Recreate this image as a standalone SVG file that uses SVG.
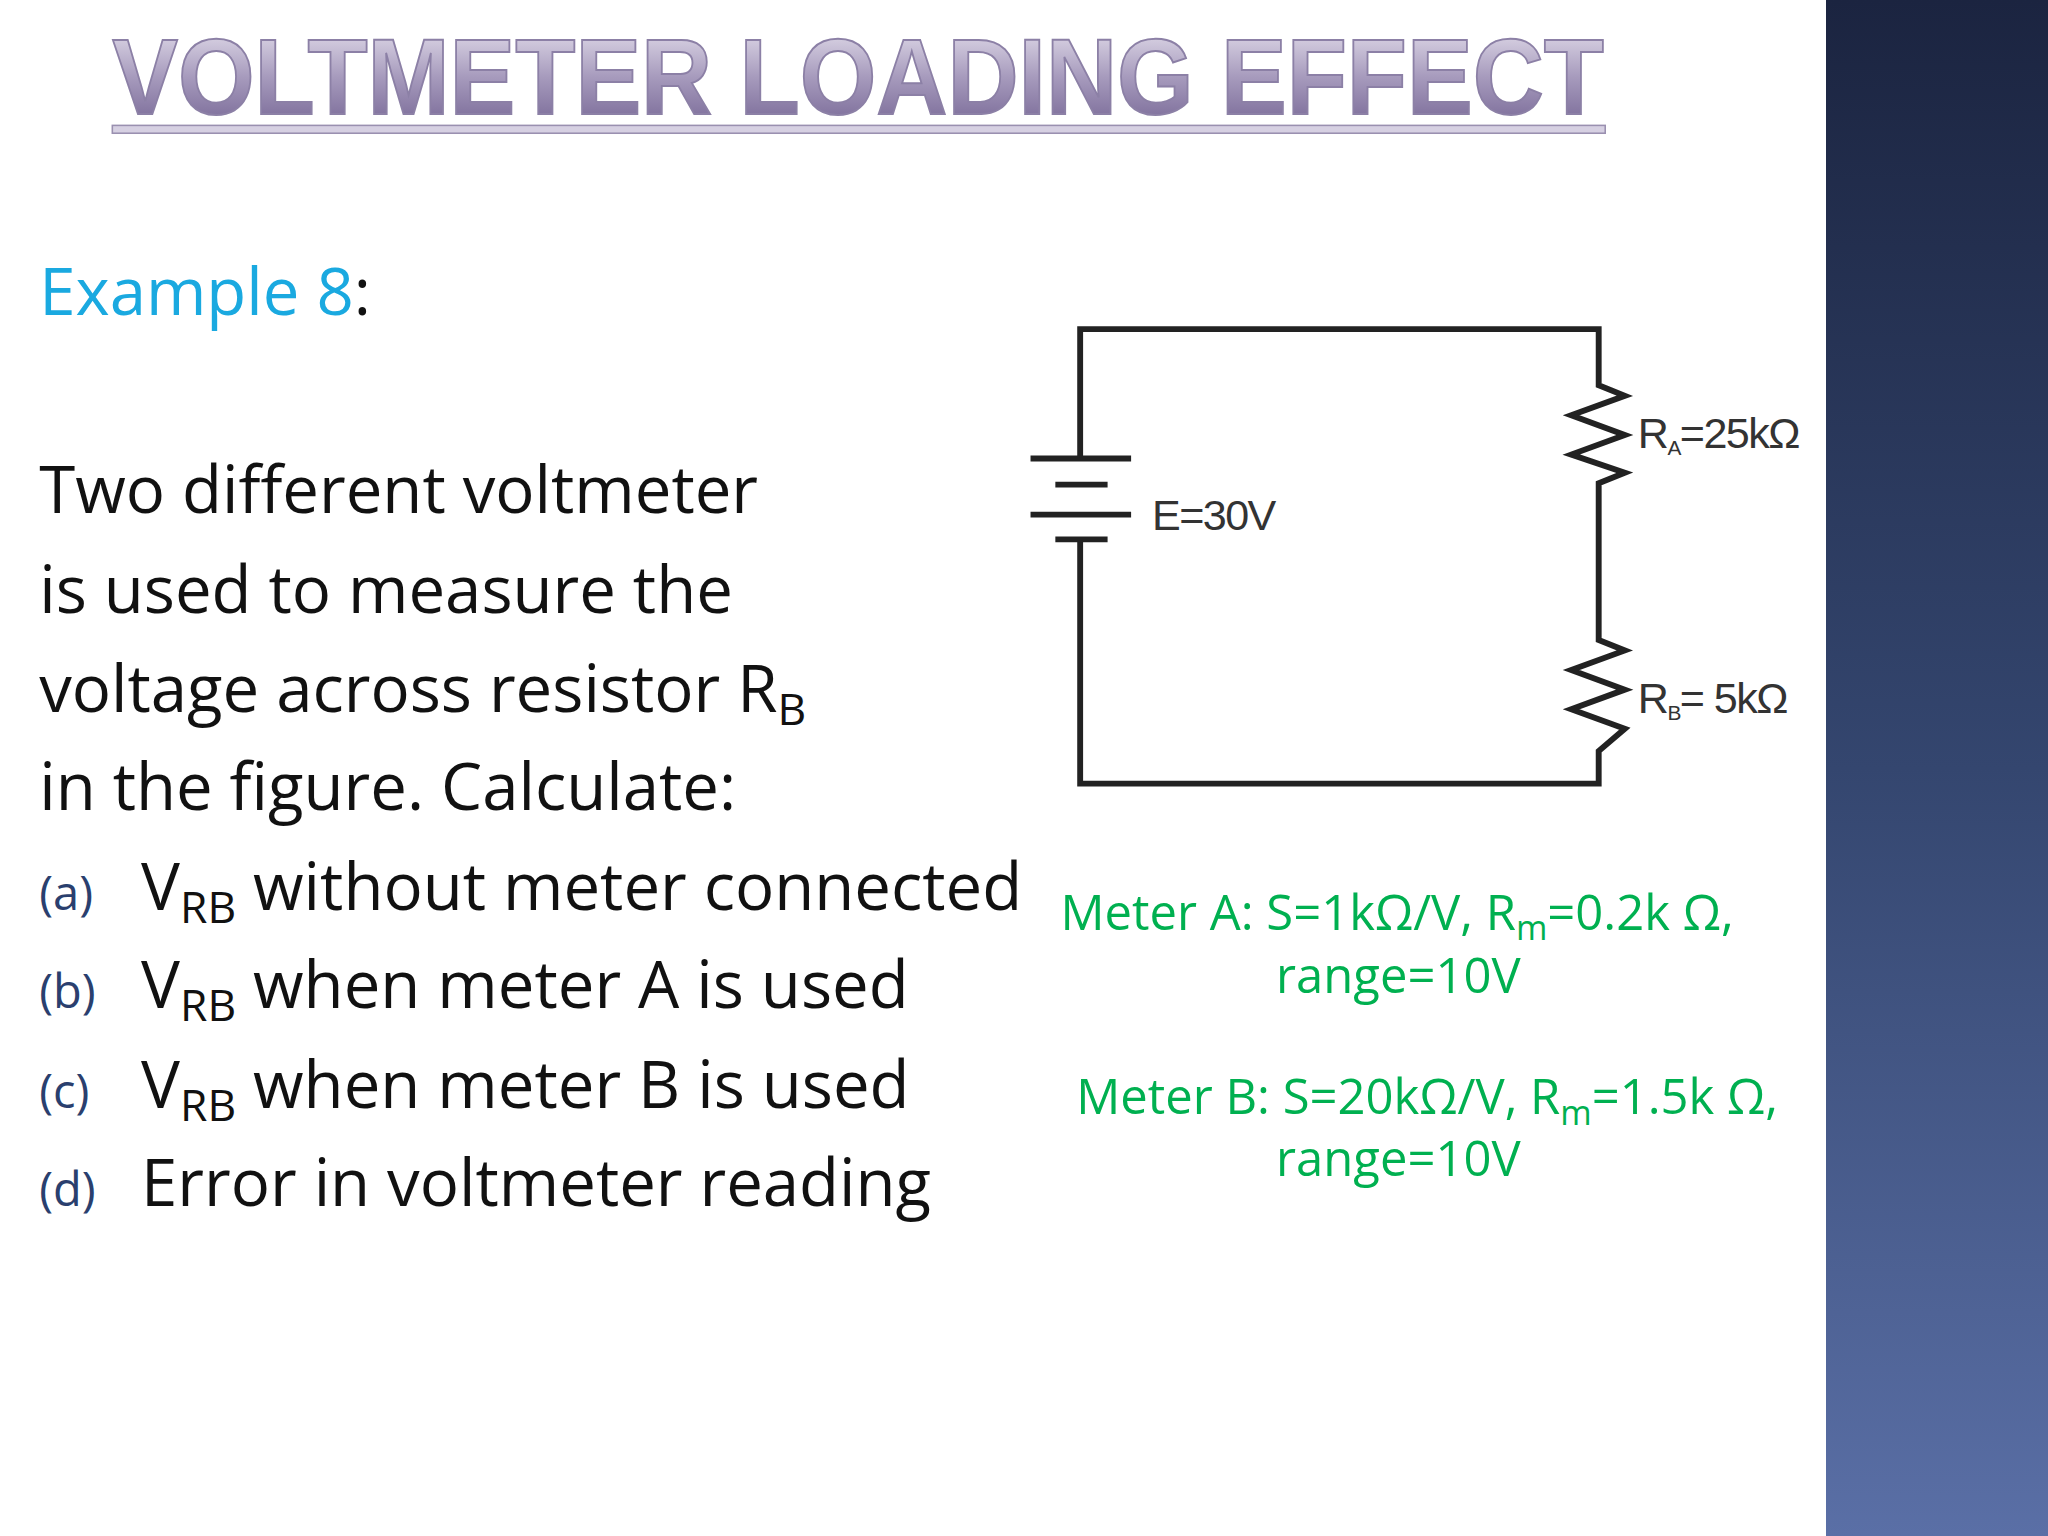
<svg xmlns="http://www.w3.org/2000/svg" width="2048" height="1536" viewBox="0 0 2048 1536">
<defs>
<linearGradient id="pan" x1="0" y1="0" x2="0" y2="1"><stop offset="0" stop-color="#1b2440"/><stop offset="0.5" stop-color="#34466f"/><stop offset="1" stop-color="#5a6fa6"/></linearGradient>
<linearGradient id="tt" x1="0" y1="0" x2="0" y2="1"><stop offset="0" stop-color="#ece8f2"/><stop offset="0.5" stop-color="#a79bbd"/><stop offset="1" stop-color="#6f5f8f"/></linearGradient>
<style>
.w{fill:none;stroke:#222;stroke-width:4.5;stroke-linejoin:miter}
.b{font-family:"Open Sans","Noto Sans",sans-serif;font-size:50px;fill:#111}
.l{font-family:"Open Sans","Noto Sans",sans-serif;font-size:36px;fill:#2a3f6e}
.c{font-family:"Liberation Sans",Arial,sans-serif;font-size:33px;fill:#333;letter-spacing:-1.2px}
.g{font-family:"Open Sans","Noto Sans",sans-serif;font-size:37.5px;fill:#00b050}
</style>
</defs>
<rect width="2048" height="1536" fill="#fff"/>
<rect x="1826" y="0" width="222" height="1536" fill="url(#pan)"/>
<g transform="scale(1.30612)">
<g id="title">
<text x="86" y="87" font-family="'Liberation Sans',Arial,sans-serif" font-weight="bold" font-size="82" textLength="1142" lengthAdjust="spacingAndGlyphs" fill="url(#tt)" stroke="#8c80a6" stroke-width="1.5">VOLTMETER LOADING EFFECT</text>
<rect x="86" y="96" width="1143" height="6" fill="#d6d0e2" stroke="#9a90b0" stroke-width="1.2"/>
</g>
<g id="heading"><text x="30" y="241" font-family="'Open Sans','Noto Sans',sans-serif" font-size="50" fill="#1aa9e0">Example 8<tspan fill="#111">:</tspan></text></g>
<g id="body">
<text class="b" x="30" y="393">Two different voltmeter</text>
<text class="b" x="30" y="469">is used to measure the</text>
<text class="b" x="30" y="545">voltage across resistor R<tspan font-size="34" dy="10">B</tspan></text>
<text class="b" x="30" y="620">in the figure. Calculate:</text>
<text class="l" x="30" y="697">(a)</text><text class="b" x="108" y="697">V<tspan font-size="34" dy="10">RB</tspan><tspan dy="-10"> without meter connected</tspan></text>
<text class="l" x="30" y="772">(b)</text><text class="b" x="108" y="772">V<tspan font-size="34" dy="10">RB</tspan><tspan dy="-10"> when meter A is used</tspan></text>
<text class="l" x="30" y="848">(c)</text><text class="b" x="108" y="848">V<tspan font-size="34" dy="10">RB</tspan><tspan dy="-10"> when meter B is used</tspan></text>
<text class="l" x="30" y="923">(d)</text><text class="b" x="108" y="923">Error in voltmeter reading</text>
</g>
<g id="circuit">
<path class="w" d="M827 351 V252 H1224 V295 L1244 303 L1203 318 L1244 333 L1203 348 L1244 362 L1224 370 V490 L1244 498 L1203 513 L1244 528 L1203 543 L1244 558 L1224 575 V600 H827 V412"/>
<line class="w" x1="789" y1="351" x2="866" y2="351" stroke-width="5"/>
<line class="w" x1="808" y1="371" x2="848" y2="371" stroke-width="5"/>
<line class="w" x1="789" y1="394" x2="866" y2="394" stroke-width="5"/>
<line class="w" x1="808" y1="413" x2="848" y2="413" stroke-width="5"/>
<text class="c" x="882" y="406">E=30V</text>
<text class="c" x="1254" y="343">R<tspan font-size="16" dy="5">A</tspan><tspan dy="-5">=25kΩ</tspan></text>
<text class="c" x="1254" y="546">R<tspan font-size="16" dy="5">B</tspan><tspan dy="-5">= 5kΩ</tspan></text>
</g>
<g id="meters">
<text class="g" x="812" y="712">Meter A: S=1kΩ/V, R<tspan font-size="26" dy="8">m</tspan><tspan dy="-8">=0.2k Ω,</tspan></text>
<text class="g" x="977" y="760">range=10V</text>
<text class="g" x="824" y="853">Meter B: S=20kΩ/V, R<tspan font-size="26" dy="8">m</tspan><tspan dy="-8">=1.5k Ω,</tspan></text>
<text class="g" x="977" y="900">range=10V</text>
</g>
</g>
</svg>
